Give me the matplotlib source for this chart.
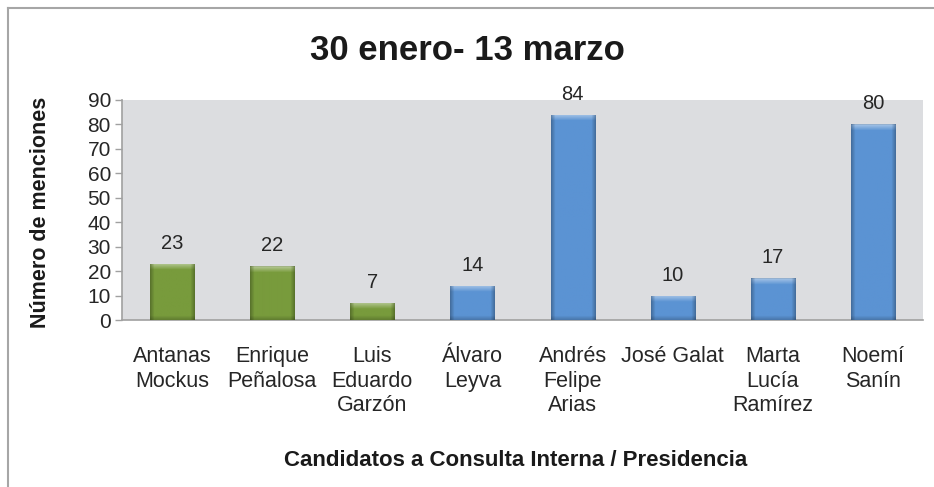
import numpy as np
import matplotlib
matplotlib.use("Agg")
import matplotlib.pyplot as plt
from matplotlib.colors import to_rgb
from matplotlib.lines import Line2D

candidatos = ["Antanas\nMockus", "Enrique\nPeñalosa", "Luis\nEduardo\nGarzón",
              "Álvaro\nLeyva", "Andrés\nFelipe\nArias", "José Galat",
              "Marta\nLucía\nRamírez", "Noemí\nSanín"]
menciones = [23, 22, 7, 14, 84, 10, 17, 80]
colores = ["#789b3c", "#789b3c", "#789b3c", "#5b93d3",
           "#5b93d3", "#5b93d3", "#5b93d3", "#5b93d3"]
y_ticks = [0, 10, 20, 30, 40, 50, 60, 70, 80, 90]

plt.rcParams["font.family"] = ["Liberation Sans", "DejaVu Sans"]

W, H = 934, 487
fig = plt.figure(figsize=(W / 100, H / 100), dpi=100)
ax = fig.add_axes([122 / W, 1 - 320 / H, (923 - 122) / W, (320 - 100) / H])
ax.set_facecolor("#dcdde0")

x = np.arange(len(candidatos))
bars = ax.bar(x, menciones, width=0.44, color=colores, zorder=2)

ax.set_xlim(-0.5, len(candidatos) - 0.5)
ax.set_ylim(0, 90)

# Bevelled shading on each bar: light top edge, darker sides and bottom
px_per_unit = 219 / 90
for rect, col in zip(bars, colores):
    x0, w, h = rect.get_x(), rect.get_width(), rect.get_height()
    ny = max(int(round(h * px_per_unit)), 2)
    nx = 44
    base = np.array(to_rgb(col))
    img = np.tile(base, (ny, nx, 1))
    cols = np.arange(nx)
    rows = np.arange(ny)
    side = np.clip(1 - np.minimum(cols, nx - 1 - cols) / 4.0, 0, 1)
    shade = 1 - 0.25 * side[None, :]
    bottom = np.clip(1 - (ny - 1 - rows) / 4.0, 0, 1)
    shade = shade * (1 - 0.18 * bottom[:, None])
    img = img * shade[:, :, None]
    top = np.clip(1 - rows / 6.0, 0, 1)[:, None] * (1 - 0.6 * side[None, :])
    img = img + (1 - img) * (0.45 * top[:, :, None])
    img[0, :, :] = img[0, :, :] * 0.9
    im = ax.imshow(np.clip(img, 0, 1), extent=(x0, x0 + w, 0, h),
                   aspect="auto", origin="upper", zorder=3,
                   interpolation="bilinear")
    im.set_clip_path(rect)
    ax.text(rect.get_x() + w / 2, h + 4.5, str(int(h)), ha="center",
            va="bottom", fontsize=14.5, color="#262626", zorder=4)

ax.set_yticks(y_ticks)
ax.set_yticklabels([str(v) for v in y_ticks], fontsize=15, color="#262626")
ax.set_xticks(x)
ax.set_xticklabels(candidatos, fontsize=15.5, color="#262626", linespacing=1.2,
                   va="top")
ax.tick_params(axis="x", length=0, pad=19)
ax.tick_params(axis="y", direction="out", length=5, width=1, color="#a0a0a0",
               pad=3)

for s in ["top", "right"]:
    ax.spines[s].set_visible(False)
for s in ["left", "bottom"]:
    ax.spines[s].set_color("#a0a0a0")
    ax.spines[s].set_linewidth(1.2)

fig.text(41 / W, 1 - 212 / H, "Número de menciones", rotation=90,
         ha="center", va="center", fontsize=15.5, fontweight="bold",
         color="#1a1a1a")
fig.text(516 / W, 1 - 461 / H, "Candidatos a Consulta Interna / Presidencia",
         ha="center", va="center", fontsize=16, fontweight="bold",
         color="#1a1a1a")
fig.text(467 / W, 1 - 50 / H, "30 enero- 13 marzo", ha="center", va="center",
         fontsize=25, fontweight="bold", color="#1a1a1a")

# Chart frame (top and left edges)
fig.add_artist(Line2D([8 / W, 8 / W], [0, 1 - 7.5 / H], transform=fig.transFigure,
                      color="#a6a6a6", lw=1.5))
fig.add_artist(Line2D([8 / W, 1], [1 - 7.5 / H, 1 - 7.5 / H],
                      transform=fig.transFigure, color="#a6a6a6", lw=1.5))

fig.savefig("out.png", dpi=100, facecolor="white")
